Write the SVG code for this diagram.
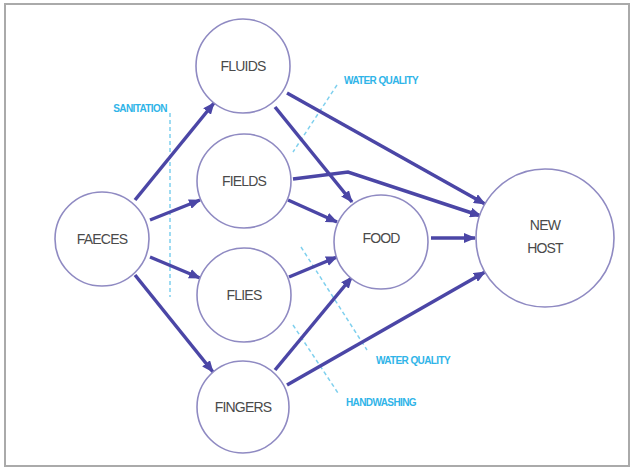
<svg xmlns="http://www.w3.org/2000/svg" width="634" height="472" viewBox="0 0 634 472">
<defs>
<style>
.node circle{fill:#fff;stroke:#8f8ac2;stroke-width:1.6}
.node text{font-family:"Liberation Sans",Arial,sans-serif;font-size:14px;fill:#4a4a4a;text-anchor:middle;letter-spacing:-0.8px}
.edge{fill:none;stroke:#4b46a6;stroke-width:3.5;marker-end:url(#ah)}
.bar{fill:none;stroke:#7fd0ee;stroke-width:1.5;stroke-dasharray:4 3}
.lbl{font-family:"Liberation Sans",Arial,sans-serif;font-size:10px;font-weight:bold;fill:#2fb4e8;letter-spacing:-0.6px}
</style>
<marker id="ah" markerUnits="userSpaceOnUse" markerWidth="12" markerHeight="10" refX="11" refY="5" orient="auto">
<path d="M0,0 L12,5 L0,10 Z" fill="#4b46a6"/>
</marker>
</defs>
<rect x="0" y="0" width="634" height="472" fill="#fff"/>
<rect x="5" y="4" width="624" height="462" fill="#fff" stroke="#aaa" stroke-width="2"/>
<g id="barriers">
<line class="bar" x1="170" y1="113" x2="170" y2="297"/>
<line class="bar" x1="337" y1="85" x2="293" y2="152"/>
<line class="bar" x1="301" y1="247" x2="367" y2="350"/>
<line class="bar" x1="293" y1="325" x2="338" y2="393"/>
<text class="lbl" x="140" y="112" text-anchor="middle">SANITATION</text>
<text class="lbl" x="381" y="84" text-anchor="middle">WATER QUALITY</text>
<text class="lbl" x="413" y="364" text-anchor="middle">WATER QUALITY</text>
<text class="lbl" x="381" y="406" text-anchor="middle">HANDWASHING</text>
</g>
<g id="connectors">
<line class="edge" x1="135" y1="200" x2="214" y2="103"/>
<line class="edge" x1="150" y1="220" x2="200" y2="200"/>
<line class="edge" x1="150" y1="257" x2="200" y2="278"/>
<line class="edge" x1="135" y1="275" x2="213" y2="372"/>
<line class="edge" x1="275" y1="107" x2="352" y2="202"/>
<line class="edge" x1="287" y1="93" x2="485" y2="204"/>
<polyline class="edge" points="293,179 348,172 481,216"/>
<line class="edge" x1="288" y1="200" x2="337" y2="222"/>
<line class="edge" x1="431" y1="238" x2="475" y2="238"/>
<line class="edge" x1="289" y1="277" x2="337" y2="257"/>
<line class="edge" x1="275" y1="370" x2="352" y2="277"/>
<line class="edge" x1="287" y1="385" x2="485" y2="272"/>
</g>
<g id="faeces" class="node"><circle cx="102" cy="239" r="47"/><text x="102" y="244">FAECES</text></g>
<g id="fluids" class="node"><circle cx="243" cy="66" r="47"/><text x="243" y="71">FLUIDS</text></g>
<g id="fields" class="node"><circle cx="244" cy="181" r="47"/><text x="244" y="186">FIELDS</text></g>
<g id="flies" class="node"><circle cx="244" cy="295" r="47"/><text x="244" y="300">FLIES</text></g>
<g id="fingers" class="node"><circle cx="243" cy="407" r="46"/><text x="243" y="412">FINGERS</text></g>
<g id="food" class="node"><circle cx="381" cy="242" r="47"/><text x="381" y="243">FOOD</text></g>
<g id="newhost" class="node"><circle cx="545" cy="238" r="69"/><text x="545" y="230">NEW</text><text x="545" y="253">HOST</text></g>
</svg>
